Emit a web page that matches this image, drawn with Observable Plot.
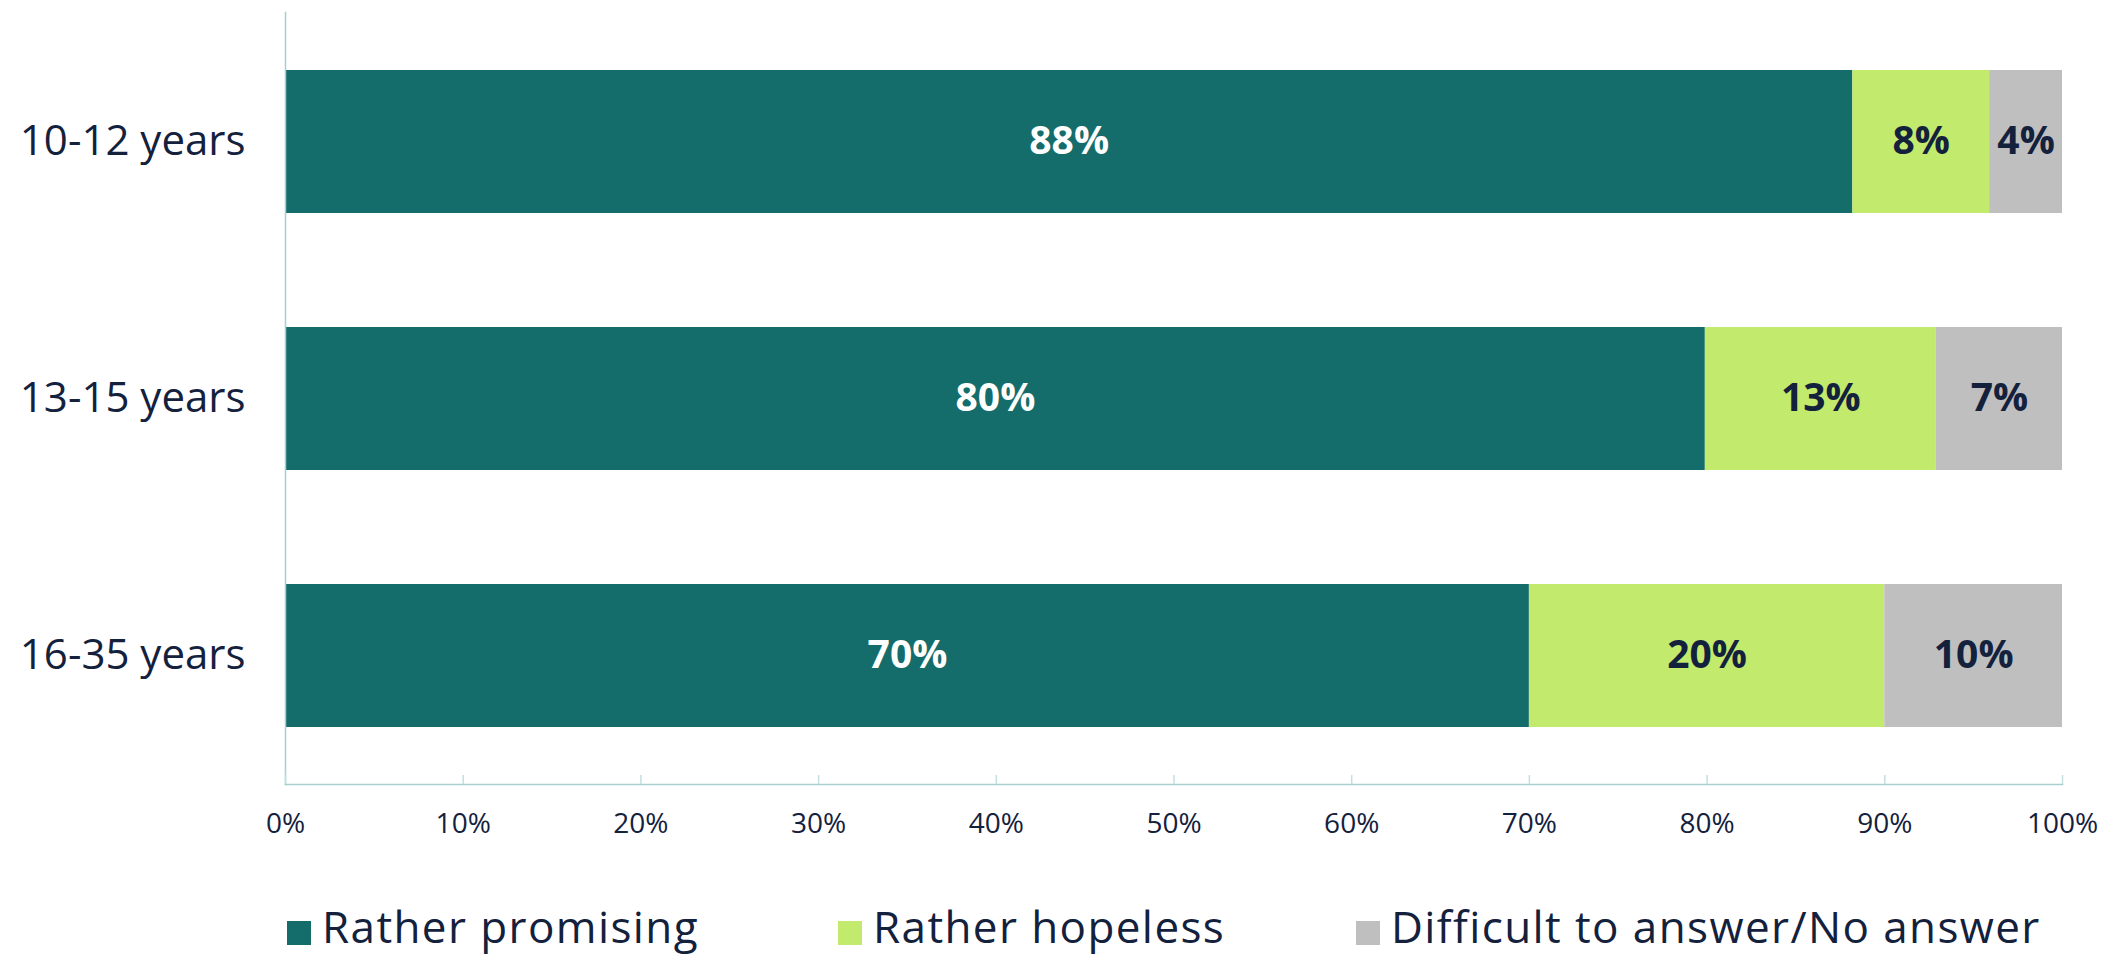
<!DOCTYPE html>
<html>
<head>
<meta charset="utf-8">
<script src="https://cdn.jsdelivr.net/npm/d3@7"></script>
<script src="https://cdn.jsdelivr.net/npm/@observablehq/plot@0.6"></script>
<style>
  html, body { margin: 0; padding: 0; background: #fff; }
  body { width: 2103px; height: 957px; overflow: hidden; font-family: "Open Sans", sans-serif; }
  #legend { position: relative; height: 50px; margin-top: 21px; }
  .item { position: absolute; top: 0; display: flex; align-items: center; height: 50px; font-size: 44px; line-height: 1; letter-spacing: 1.4px; color: #14213d; white-space: nowrap; }
  .sw { width: 24px; height: 24px; margin-right: 11px; position: relative; top: 7px; }
</style>
</head>
<body>
<div id="chart"></div>
<div id="legend"></div>
<script>
const ages = ["10-12 years", "13-15 years", "16-35 years"];
const series = ["Rather promising", "Rather hopeless", "Difficult to answer/No answer"];
const promising = [88.2, 79.9, 70];
const hopeless = [7.7, 13, 20];
const difficult = [4.1, 7.1, 10];
const colors = ["#146c6b", "#c2ea6c", "#bfbfbf"];
const xTicks = [0, 10, 20, 30, 40, 50, 60, 70, 80, 90, 100];

const valuesBySeries = [promising, hopeless, difficult];
const data = [];
ages.forEach((age, i) => {
  series.forEach((s, j) => data.push({age, series: s, value: valuesBySeries[j][i]}));
});

const W = 2103, H = 880, mT = 12, mB = 96, mL = 285, mR = 41;
const axisColor = "#a6cfcf";
const textColor = "#14213d";
const label = d => Math.round(d.value) + "%";

const chart = Plot.plot({
  width: W,
  height: H,
  marginTop: mT,
  marginBottom: mB,
  marginLeft: mL,
  marginRight: mR,
  style: {fontFamily: "'Open Sans', sans-serif", background: "#fff", overflow: "visible"},
  x: {domain: [0, 100], label: null},
  y: {domain: ages, paddingInner: 0.445, paddingOuter: 0.2225, label: null},
  color: {domain: series, range: colors},
  marks: [
    Plot.barX(data, Plot.stackX({x: "value", y: "age", fill: "series", order: series})),
    Plot.textX(data, Plot.stackX({x: "value", y: "age", z: "series", order: series,
      text: d => d.series === series[0] ? label(d) : null,
      fill: "white", fontSize: 39, fontWeight: "bold"})),
    Plot.textX(data, Plot.stackX({x: "value", y: "age", z: "series", order: series,
      text: d => d.series === series[0] ? null : label(d),
      fill: textColor, fontSize: 39, fontWeight: "bold"})),
    Plot.frame({anchor: "left", stroke: axisColor, strokeWidth: 1.5}),
    Plot.frame({anchor: "bottom", stroke: axisColor, strokeWidth: 1.5}),
    Plot.ruleX(xTicks, {x: d => d, stroke: "#c3e0e0", strokeWidth: 1.5, insetTop: H - mT - mB - 9}),
    Plot.axisX(xTicks, {tickSize: 0, tickPadding: 29, fontSize: 28, fill: textColor,
      tickFormat: d => d + "%", label: null}),
    Plot.axisY({tickSize: 0, tickPadding: 40, fontSize: 42, fill: textColor, label: null})
  ]
});
document.getElementById("chart").appendChild(chart);

const legend = document.getElementById("legend");
const lefts = [287, 838, 1356];
series.forEach((s, j) => {
  const it = document.createElement("div");
  it.className = "item";
  it.style.left = lefts[j] + "px";
  const sw = document.createElement("div");
  sw.className = "sw";
  sw.style.background = chart.scale("color").apply(s);
  it.appendChild(sw);
  const t = document.createElement("span");
  t.textContent = s;
  it.appendChild(t);
  legend.appendChild(it);
});
</script>
</body>
</html>
